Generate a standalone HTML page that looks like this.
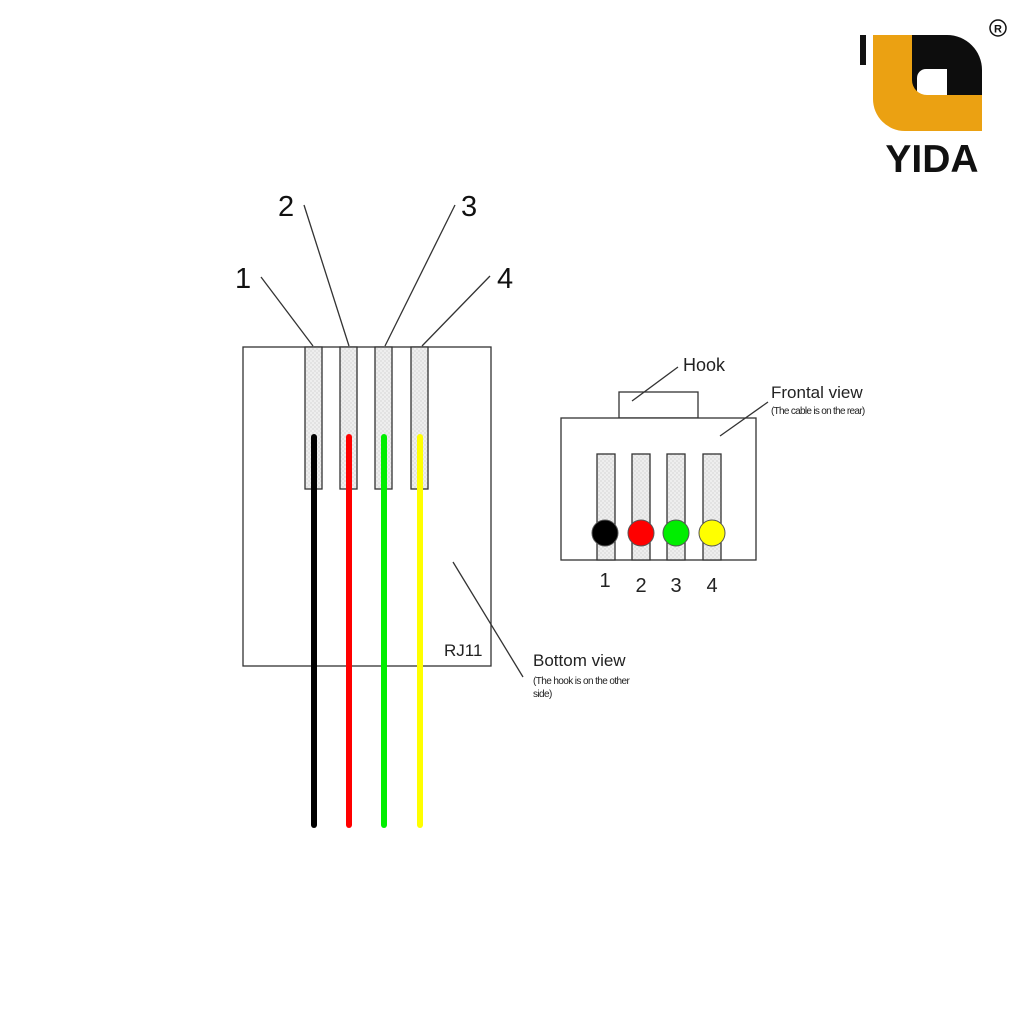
<!DOCTYPE html>
<html><head><meta charset="utf-8"><style>html,body{margin:0;padding:0;background:#fff}svg{display:block}</style></head>
<body>
<svg width="1024" height="1024" viewBox="0 0 1024 1024" xmlns="http://www.w3.org/2000/svg" font-family="Liberation Sans, sans-serif">
<defs>
<pattern id="hatch" width="4" height="4" patternUnits="userSpaceOnUse"><rect width="4" height="4" fill="#eee"/><rect width="2" height="2" fill="#e2e2e2"/><rect x="2" y="2" width="2" height="2" fill="#e2e2e2"/></pattern>
</defs>
<rect width="1024" height="1024" fill="#fff"/>
<!-- Logo -->
<rect x="860" y="35" width="6" height="30" fill="#111"/>
<path d="M912 35 H947 A35 35 0 0 1 982 70 V95 H912 Z" fill="#0d0d0d"/>
<path d="M873 35 H912 V95 H982 V131 H905 A32 32 0 0 1 873 99 Z" fill="#eba112"/>
<path d="M917 95 V78 A9 9 0 0 1 926 69 H947 V95 Z" fill="#fff"/>
<path d="M912 95 V80 A15 15 0 0 0 927 95 Z" fill="#eba112"/>
<text x="932" y="172" font-size="39" font-weight="bold" text-anchor="middle" fill="#111">YIDA</text>
<circle cx="998" cy="28" r="8" fill="none" stroke="#111" stroke-width="1.5"/>
<text x="998" y="32.5" font-size="11" font-weight="bold" text-anchor="middle" fill="#111">R</text>

<!-- Bottom view -->
<g stroke="#333" stroke-width="1.3" fill="none">
<rect x="243" y="347" width="248" height="319"/>
<rect x="305" y="347" width="17" height="142" fill="url(#hatch)"/>
<rect x="340" y="347" width="17" height="142" fill="url(#hatch)"/>
<rect x="375" y="347" width="17" height="142" fill="url(#hatch)"/>
<rect x="411" y="347" width="17" height="142" fill="url(#hatch)"/>
<line x1="261" y1="277" x2="313" y2="346"/>
<line x1="304" y1="205" x2="349" y2="346"/>
<line x1="455" y1="205" x2="385" y2="346"/>
<line x1="490" y1="276" x2="422" y2="346"/>
<line x1="453" y1="562" x2="523" y2="677"/>
</g>
<g stroke-width="6" stroke-linecap="round">
<line x1="314" y1="437" x2="314" y2="825" stroke="#000"/>
<line x1="349" y1="437" x2="349" y2="825" stroke="#ff0000"/>
<line x1="384" y1="437" x2="384" y2="825" stroke="#00ee00"/>
<line x1="420" y1="437" x2="420" y2="825" stroke="#ffff00"/>
</g>
<g font-size="29" fill="#111">
<text x="235" y="288">1</text>
<text x="278" y="216">2</text>
<text x="461" y="216">3</text>
<text x="497" y="288">4</text>
</g>
<text x="444" y="656" font-size="17" fill="#222">RJ11</text>
<text x="533" y="666" font-size="17" fill="#222">Bottom view</text>
<text x="533" y="684" font-size="10" fill="#222" letter-spacing="-0.6">(The hook is on the other</text>
<text x="533" y="697" font-size="10" fill="#222" letter-spacing="-0.6">side)</text>

<!-- Frontal view -->
<g stroke="#333" stroke-width="1.3" fill="none">
<rect x="619" y="392" width="79" height="26" fill="#fff"/>
<rect x="561" y="418" width="195" height="142" fill="#fff"/>
<rect x="597" y="454" width="18" height="106" fill="url(#hatch)"/>
<rect x="632" y="454" width="18" height="106" fill="url(#hatch)"/>
<rect x="667" y="454" width="18" height="106" fill="url(#hatch)"/>
<rect x="703" y="454" width="18" height="106" fill="url(#hatch)"/>
<line x1="632" y1="401" x2="678" y2="367"/>
<line x1="720" y1="436" x2="768" y2="402"/>
</g>
<g stroke="#555" stroke-width="1">
<circle cx="605" cy="533" r="13" fill="#000"/>
<circle cx="641" cy="533" r="13" fill="#ff0000"/>
<circle cx="676" cy="533" r="13" fill="#00ee00"/>
<circle cx="712" cy="533" r="13" fill="#ffff00"/>
</g>
<g font-size="20" fill="#222" text-anchor="middle">
<text x="605" y="587">1</text>
<text x="641" y="592">2</text>
<text x="676" y="592">3</text>
<text x="712" y="592">4</text>
</g>
<text x="683" y="371" font-size="18" fill="#222">Hook</text>
<text x="771" y="398" font-size="17" fill="#222">Frontal view</text>
<text x="771" y="414" font-size="10" fill="#222" letter-spacing="-0.7">(The cable is on the rear)</text>
</svg>
</body></html>
